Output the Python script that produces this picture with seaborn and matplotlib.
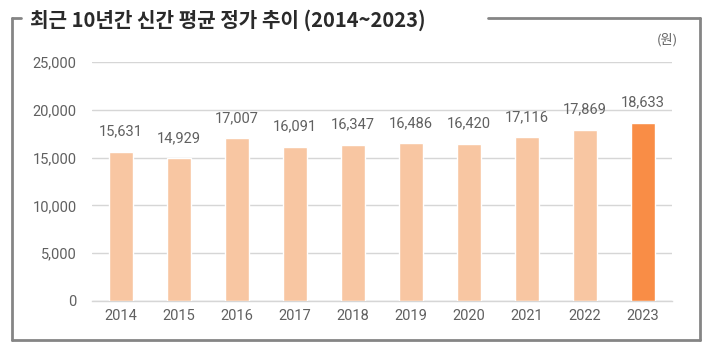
import matplotlib
matplotlib.use("Agg")
import matplotlib.pyplot as plt
import seaborn as sns
import pandas as pd
from matplotlib.lines import Line2D

years = ["2014", "2015", "2016", "2017", "2018", "2019", "2020", "2021", "2022", "2023"]
prices = [15631, 14929, 17007, 16091, 16347, 16486, 16420, 17116, 17869, 18633]
y_ticks = [0, 5000, 10000, 15000, 20000, 25000]
title = "최근 10년간 신간 평균 정가 추이 (2014~2023)"
unit = "(원)"

sns.set_theme(style="white")
plt.rcParams['font.family'] = ['Roboto', 'Noto Sans CJK KR', 'DejaVu Sans']

W, H = 721, 354
fig = plt.figure(figsize=(W / 100, H / 100), dpi=100)
ax = fig.add_axes([92 / W, (H - 301) / H, 580 / W, 239 / H])

df = pd.DataFrame({"year": years, "price": prices})
light = "#F8C6A2"
hi = "#F98D46"
palette = [light] * (len(years) - 1) + [hi]
sns.barplot(data=df, x="year", y="price", hue="year", palette=palette,
            legend=False, width=0.42, ax=ax, zorder=3, saturation=1)

ax.set_ylim(0, 25000)
ax.set_xlim(-0.5, len(years) - 0.5)
ax.set_yticks(y_ticks)
ax.set_yticklabels([f"{v:,}" for v in y_ticks])
ax.yaxis.grid(True, color="#d6d6d6", linewidth=1.0, zorder=0)
ax.xaxis.grid(False)
for s in ["top", "right", "left"]:
    ax.spines[s].set_visible(False)
ax.spines["bottom"].set_color("#d6d6d6")
ax.spines["bottom"].set_linewidth(1.0)
ax.tick_params(axis="y", length=0, pad=11, labelsize=10.5, colors="#606060")
ax.tick_params(axis="x", length=0, pad=6, labelsize=10.5, colors="#606060")
ax.set_xlabel("")
ax.set_ylabel("")

for i, v in enumerate(prices):
    ax.text(i, v + 1400, f"{v:,}", ha="center", va="bottom", fontsize=10.5,
            color="#606060", zorder=4)

fig.text(30 / W, 1 - 20 / H, title, ha="left", va="center", fontsize=14.5,
         fontweight="bold", color="#2a2a2a",
         family=['Noto Sans CJK KR', 'DejaVu Sans'])
fig.text(678 / W, 1 - 40 / H, unit, ha="right", va="center", fontsize=9.5,
         color="#606060", family=['Noto Sans CJK KR', 'DejaVu Sans'])

fc = "#858585"
lw = 2.0
def fl(xs, ys):
    fig.add_artist(Line2D([x / W for x in xs], [1 - y / H for y in ys],
                          color=fc, linewidth=lw, transform=fig.transFigure))
fl([12, 12], [18, 340])
fl([12, 700], [340, 340])
fl([700, 700], [18, 340])
fl([12, 21], [18, 18])
fl([488, 700], [18, 18])

fig.savefig("out.png", dpi=100)
